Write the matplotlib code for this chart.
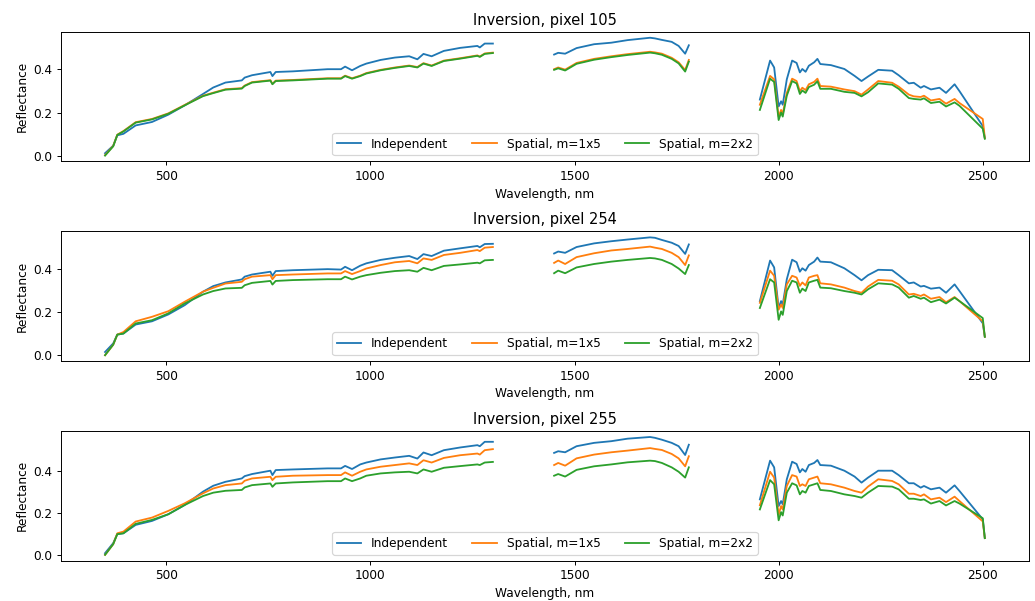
import numpy as np
import matplotlib
matplotlib.use("Agg")
import matplotlib.pyplot as plt

# band centres (nm); the two water-vapour windows are left out
wl = [350, 370, 380, 395, 425, 465, 505, 545, 590, 615, 645, 685, 692, 710,
      755, 760, 768, 810, 895, 928, 938, 955, 975, 990, 1025, 1060, 1095,
      1115, 1130, 1150, 1180, 1220, 1262, 1268, 1280, 1300,
      1450, 1460, 1477, 1505, 1548, 1590, 1630, 1685, 1697, 1714, 1738,
      1755, 1771, 1780,
      1954, 1979, 1989, 2000, 2006, 2010, 2020, 2033, 2044, 2052, 2058,
      2066, 2074, 2087, 2095, 2102, 2128, 2161, 2186, 2203, 2219, 2244,
      2278, 2294, 2319, 2331, 2348, 2356, 2373, 2394, 2410, 2431, 2443,
      2500, 2505]

pixels = [105, 254, 255]
methods = ["Independent", "Spatial, m=1x5", "Spatial, m=2x2"]

# pixel 105
ind_105 = [0.011, 0.046, 0.094, 0.101, 0.140, 0.156, 0.190, 0.233, 0.286, 0.316, 0.339, 0.349, 0.362, 0.373,
           0.388, 0.369, 0.388, 0.391, 0.401, 0.401, 0.413, 0.396, 0.416, 0.427, 0.444, 0.455, 0.461,
           0.447, 0.472, 0.461, 0.486, 0.500, 0.509, 0.502, 0.520, 0.520,
           0.469, 0.477, 0.473, 0.499, 0.517, 0.524, 0.536, 0.547, 0.544, 0.537, 0.528, 0.509, 0.473, 0.512,
           0.260, 0.441, 0.409, 0.228, 0.252, 0.236, 0.354, 0.441, 0.430, 0.386, 0.402, 0.389, 0.417,
           0.433, 0.449, 0.425, 0.420, 0.402, 0.370, 0.346, 0.367, 0.398, 0.394, 0.373, 0.335, 0.338,
           0.315, 0.323, 0.307, 0.315, 0.291, 0.331, 0.299, 0.137, 0.082]
sp15_105 = [0.002, 0.045, 0.097, 0.114, 0.155, 0.170, 0.196, 0.235, 0.278, 0.292, 0.308, 0.313, 0.325, 0.341,
            0.350, 0.333, 0.348, 0.351, 0.359, 0.359, 0.371, 0.359, 0.371, 0.383, 0.398, 0.409, 0.418,
            0.411, 0.429, 0.418, 0.441, 0.452, 0.465, 0.460, 0.474, 0.478,
            0.401, 0.409, 0.399, 0.430, 0.449, 0.461, 0.471, 0.482, 0.479, 0.473, 0.454, 0.433, 0.397, 0.444,
            0.236, 0.370, 0.354, 0.181, 0.212, 0.193, 0.291, 0.357, 0.346, 0.299, 0.315, 0.304, 0.331,
            0.342, 0.357, 0.323, 0.320, 0.307, 0.299, 0.283, 0.307, 0.346, 0.338, 0.320, 0.283, 0.275,
            0.272, 0.278, 0.256, 0.263, 0.241, 0.263, 0.244, 0.170, 0.082]
sp22_105 = [0.000, 0.043, 0.096, 0.112, 0.153, 0.168, 0.194, 0.233, 0.276, 0.290, 0.306, 0.311, 0.323, 0.339,
            0.348, 0.331, 0.346, 0.349, 0.357, 0.357, 0.369, 0.357, 0.369, 0.381, 0.396, 0.407, 0.416,
            0.409, 0.427, 0.416, 0.439, 0.450, 0.463, 0.458, 0.472, 0.476,
            0.398, 0.405, 0.395, 0.426, 0.445, 0.457, 0.467, 0.478, 0.475, 0.468, 0.449, 0.428, 0.390, 0.436,
            0.212, 0.357, 0.342, 0.165, 0.200, 0.181, 0.278, 0.346, 0.335, 0.286, 0.302, 0.291, 0.318,
            0.329, 0.345, 0.310, 0.310, 0.296, 0.291, 0.275, 0.294, 0.335, 0.329, 0.310, 0.267, 0.263,
            0.260, 0.266, 0.244, 0.250, 0.228, 0.247, 0.231, 0.125, 0.078]

# pixel 254
ind_254 = [0.015, 0.055, 0.096, 0.101, 0.143, 0.158, 0.190, 0.233, 0.296, 0.322, 0.339, 0.353, 0.366, 0.376,
           0.389, 0.370, 0.392, 0.396, 0.401, 0.399, 0.412, 0.396, 0.417, 0.428, 0.444, 0.454, 0.462,
           0.448, 0.471, 0.462, 0.487, 0.498, 0.509, 0.503, 0.518, 0.519,
           0.474, 0.483, 0.477, 0.504, 0.521, 0.531, 0.539, 0.549, 0.547, 0.537, 0.524, 0.509, 0.472, 0.516,
           0.252, 0.441, 0.409, 0.220, 0.252, 0.236, 0.354, 0.445, 0.433, 0.389, 0.405, 0.394, 0.420,
           0.436, 0.455, 0.436, 0.433, 0.405, 0.373, 0.349, 0.373, 0.398, 0.396, 0.373, 0.335, 0.339,
           0.320, 0.323, 0.310, 0.315, 0.291, 0.330, 0.299, 0.149, 0.086]
sp15_254 = [0.000, 0.049, 0.096, 0.108, 0.158, 0.179, 0.205, 0.249, 0.296, 0.314, 0.334, 0.342, 0.354, 0.366,
            0.373, 0.354, 0.373, 0.376, 0.381, 0.381, 0.392, 0.378, 0.392, 0.404, 0.420, 0.433, 0.439,
            0.428, 0.451, 0.444, 0.467, 0.477, 0.490, 0.485, 0.501, 0.504,
            0.430, 0.441, 0.425, 0.457, 0.475, 0.488, 0.495, 0.506, 0.501, 0.495, 0.477, 0.457, 0.420, 0.465,
            0.244, 0.394, 0.370, 0.212, 0.236, 0.220, 0.330, 0.370, 0.362, 0.323, 0.339, 0.325, 0.362,
            0.370, 0.373, 0.335, 0.330, 0.315, 0.299, 0.291, 0.320, 0.351, 0.347, 0.330, 0.283, 0.286,
            0.276, 0.283, 0.263, 0.271, 0.247, 0.271, 0.252, 0.158, 0.086]
sp22_254 = [0.000, 0.049, 0.096, 0.101, 0.148, 0.163, 0.195, 0.241, 0.283, 0.299, 0.311, 0.314, 0.326, 0.337,
            0.346, 0.329, 0.346, 0.350, 0.354, 0.354, 0.366, 0.353, 0.366, 0.373, 0.384, 0.392, 0.396,
            0.389, 0.407, 0.396, 0.416, 0.423, 0.431, 0.428, 0.442, 0.444,
            0.382, 0.394, 0.382, 0.409, 0.425, 0.436, 0.444, 0.453, 0.451, 0.444, 0.425, 0.404, 0.378, 0.420,
            0.220, 0.354, 0.339, 0.165, 0.204, 0.188, 0.299, 0.347, 0.339, 0.291, 0.310, 0.299, 0.339,
            0.347, 0.351, 0.315, 0.312, 0.299, 0.291, 0.283, 0.307, 0.335, 0.330, 0.315, 0.268, 0.276,
            0.263, 0.268, 0.247, 0.259, 0.241, 0.268, 0.252, 0.173, 0.086]

# pixel 255
ind_255 = [0.008, 0.056, 0.099, 0.103, 0.143, 0.162, 0.194, 0.238, 0.302, 0.330, 0.349, 0.365, 0.376, 0.386,
           0.402, 0.381, 0.405, 0.408, 0.413, 0.413, 0.425, 0.410, 0.432, 0.441, 0.456, 0.465, 0.473,
           0.460, 0.489, 0.476, 0.500, 0.513, 0.524, 0.519, 0.540, 0.540,
           0.487, 0.495, 0.490, 0.519, 0.535, 0.543, 0.555, 0.563, 0.559, 0.550, 0.535, 0.519, 0.477, 0.526,
           0.265, 0.450, 0.418, 0.233, 0.257, 0.241, 0.361, 0.445, 0.434, 0.394, 0.410, 0.397, 0.429,
           0.439, 0.453, 0.429, 0.426, 0.402, 0.374, 0.345, 0.369, 0.402, 0.402, 0.381, 0.342, 0.342,
           0.321, 0.329, 0.313, 0.321, 0.297, 0.332, 0.305, 0.170, 0.080]
sp15_255 = [0.000, 0.051, 0.103, 0.111, 0.159, 0.178, 0.210, 0.246, 0.294, 0.317, 0.333, 0.341, 0.354, 0.365,
            0.373, 0.357, 0.373, 0.378, 0.381, 0.381, 0.394, 0.378, 0.397, 0.408, 0.421, 0.429, 0.437,
            0.429, 0.452, 0.441, 0.463, 0.476, 0.484, 0.479, 0.500, 0.505,
            0.429, 0.439, 0.426, 0.461, 0.479, 0.490, 0.498, 0.510, 0.506, 0.501, 0.482, 0.461, 0.423, 0.471,
            0.237, 0.397, 0.369, 0.192, 0.233, 0.217, 0.329, 0.381, 0.374, 0.329, 0.337, 0.329, 0.361,
            0.369, 0.374, 0.342, 0.337, 0.321, 0.305, 0.297, 0.326, 0.361, 0.353, 0.337, 0.292, 0.292,
            0.281, 0.289, 0.265, 0.273, 0.252, 0.278, 0.257, 0.160, 0.080]
sp22_255 = [0.000, 0.051, 0.099, 0.103, 0.148, 0.167, 0.194, 0.238, 0.281, 0.297, 0.306, 0.310, 0.322, 0.333,
            0.341, 0.325, 0.341, 0.346, 0.352, 0.352, 0.365, 0.352, 0.365, 0.378, 0.389, 0.394, 0.397,
            0.389, 0.408, 0.397, 0.416, 0.424, 0.432, 0.429, 0.441, 0.444,
            0.378, 0.386, 0.374, 0.406, 0.423, 0.432, 0.442, 0.450, 0.448, 0.439, 0.418, 0.397, 0.369, 0.418,
            0.217, 0.357, 0.337, 0.165, 0.204, 0.188, 0.297, 0.342, 0.332, 0.289, 0.305, 0.297, 0.329,
            0.337, 0.342, 0.310, 0.305, 0.289, 0.281, 0.273, 0.297, 0.329, 0.326, 0.313, 0.268, 0.268,
            0.262, 0.265, 0.245, 0.257, 0.236, 0.257, 0.245, 0.175, 0.080]

spectra = [[ind_105, sp15_105, sp22_105],
           [ind_254, sp15_254, sp22_254],
           [ind_255, sp15_255, sp22_255]]


def with_gaps(x, y):
    # put a NaN wherever the band spacing jumps, so the absorption windows stay empty
    x = np.asarray(x, dtype=float)
    y = np.asarray(y, dtype=float)
    cut = np.flatnonzero(np.diff(x) > 100) + 1
    return np.insert(x, cut, np.nan), np.insert(y, cut, np.nan)


dpi = 87.5
fig, axes = plt.subplots(3, 1, figsize=(1035 / dpi, 601 / dpi), dpi=dpi)
for ax, pix, rows in zip(axes, pixels, spectra):
    for refl, name in zip(rows, methods):
        xx, yy = with_gaps(wl, refl)
        ax.plot(xx, yy, label=name)
    ax.set_title('Inversion, pixel %d' % pix)
    ax.set_xlabel('Wavelength, nm')
    ax.set_ylabel('Reflectance')
    ax.legend(loc='lower center', ncol=3)

fig.subplots_adjust(left=0.059, right=0.994, top=0.947, bottom=0.067, hspace=0.54)
fig.savefig('out.png', dpi=dpi)
